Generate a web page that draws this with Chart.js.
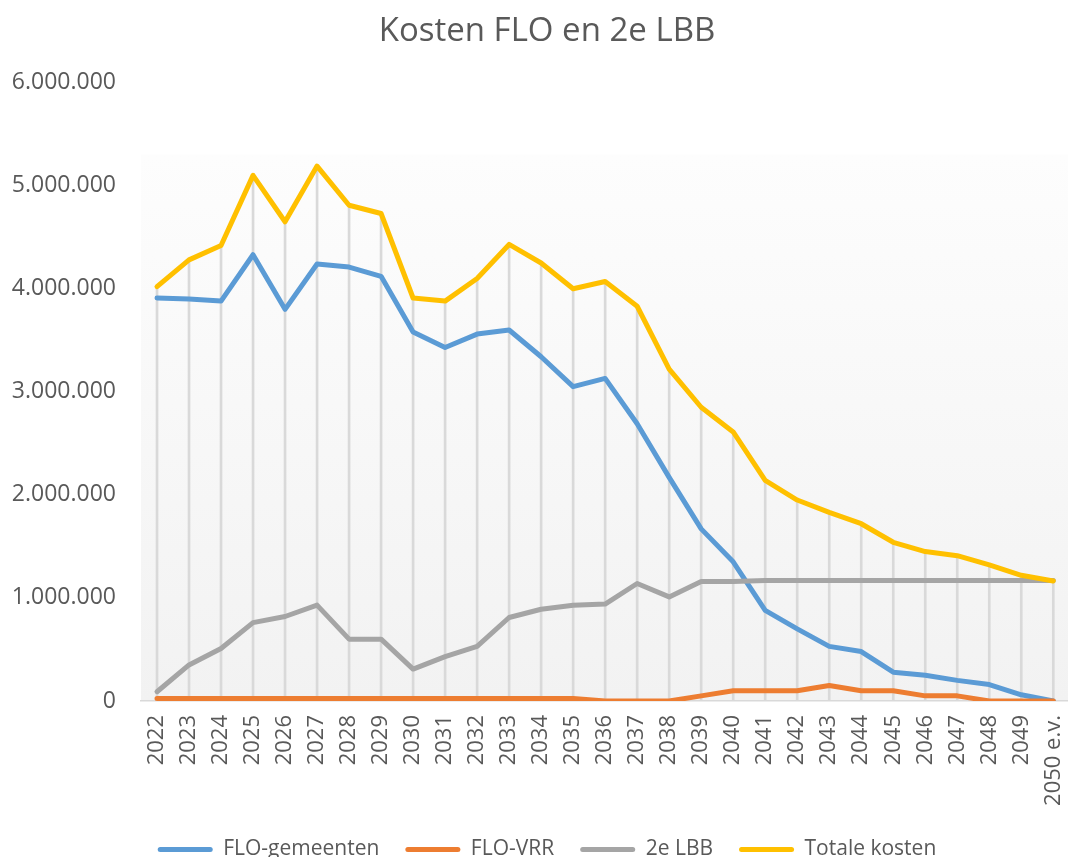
<!DOCTYPE html>
<html>
<head>
<meta charset="utf-8">
<script src="https://cdn.jsdelivr.net/npm/chart.js@4/dist/chart.umd.min.js"></script>
<style>
  html, body { margin: 0; padding: 0; overflow: hidden; background: #fff; }
  #wrap { width: 1094px; height: 870px; position: relative; }
</style>
</head>
<body>
<div id="wrap"><canvas id="myChart"></canvas></div>
<script>
// jaren
var jaren = ['2022', '2023', '2024', '2025', '2026', '2027', '2028', '2029', '2030', '2031',
    '2032', '2033', '2034', '2035', '2036', '2037', '2038', '2039', '2040', '2041',
    '2042', '2043', '2044', '2045', '2046', '2047', '2048', '2049', '2050 e.v.'];

var floGemeenten = [3910000, 3900000, 3880000, 4330000, 3800000, 4240000, 4210000, 4120000, 3580000, 3430000,
    3560000, 3600000, 3340000, 3050000, 3130000, 2690000, 2170000, 1670000, 1350000, 880000,
    700000, 530000, 480000, 280000, 250000, 200000, 160000, 60000, 0];

var floVRR = [25000, 25000, 25000, 25000, 25000, 25000, 25000, 25000, 25000, 25000,
    25000, 25000, 25000, 25000, 0, 0, 0, 50000, 100000, 100000,
    100000, 150000, 100000, 100000, 50000, 50000, 0, 0, 0];

var tweedeLBB = [90000, 350000, 510000, 760000, 820000, 930000, 600000, 600000, 310000, 430000,
    530000, 810000, 890000, 930000, 940000, 1140000, 1010000, 1160000, 1160000, 1170000,
    1170000, 1170000, 1170000, 1170000, 1170000, 1170000, 1170000, 1170000, 1170000];

var totaleKosten = [4020000, 4280000, 4420000, 5100000, 4650000, 5190000, 4810000, 4730000, 3910000, 3880000,
    4100000, 4430000, 4250000, 4000000, 4070000, 3830000, 3220000, 2850000, 2610000, 2140000,
    1950000, 1830000, 1720000, 1540000, 1450000, 1410000, 1320000, 1220000, 1165000];

var yTicks = { min: 0, max: 6000000, step: 1000000 };

var tekst = '#595959';
Chart.defaults.font.family = "'Open Sans', sans-serif";
Chart.defaults.color = tekst;

// achtergrond plot area (wit -> lichtgrijs)
const plotBackground = {
    id: 'plotBackground',
    beforeDraw(chart) {
        const { ctx, chartArea: a } = chart;
        const top = a.top + (a.bottom - a.top) * 0.1165;
        const g = ctx.createLinearGradient(0, top, 0, a.bottom);
        g.addColorStop(0, '#fdfdfd');
        g.addColorStop(1, '#f2f2f2');
        ctx.save();
        ctx.fillStyle = g;
        ctx.fillRect(a.left, top, a.right - a.left, a.bottom - top);
        ctx.restore();
    }
};

let lijn = (label, data, kleur, order) => ({
    type: 'line',
    label: label,
    data: data,
    borderColor: kleur,
    backgroundColor: kleur,
    borderWidth: 5,
    pointRadius: 0,
    tension: 0,
    fill: false,
    borderJoinStyle: 'round',
    borderCapStyle: 'round',
    order: order
});

var ctx = document.getElementById('myChart').getContext('2d');
var myChart = new Chart(ctx, {
    type: 'line',
    data: {
        labels: jaren,
        datasets: [
            lijn('FLO-gemeenten', floGemeenten, '#5B9BD5', 4),
            lijn('FLO-VRR', floVRR, '#ED7D31', 3),
            lijn('2e LBB', tweedeLBB, '#A5A5A5', 2),
            lijn('Totale kosten', totaleKosten, '#FFC000', 1),
            {
                // loodlijnen vanaf de hoogste lijn
                type: 'bar',
                label: 'drop',
                data: totaleKosten,
                backgroundColor: '#d9d9d9',
                barThickness: 2,
                order: 10
            }
        ]
    },
    options: {
        responsive: true,
        maintainAspectRatio: false,
        animation: false,
        layout: { padding: 0 },
        plugins: {
            title: {
                display: true,
                text: 'Kosten FLO en 2e LBB',
                color: tekst,
                font: { size: 33, weight: 'normal' },
                padding: { top: 12, bottom: 31 }
            },
            legend: {
                position: 'bottom',
                labels: {
                    color: tekst,
                    font: { size: 21 },
                    boxWidth: 55,
                    boxHeight: 5,
                    padding: 26,
                    useBorderRadius: true,
                    borderRadius: 2.5,
                    filter: item => item.datasetIndex < 4,
                    sort: (a, b) => a.datasetIndex - b.datasetIndex,
                    generateLabels: chart => Chart.defaults.plugins.legend.labels.generateLabels(chart)
                        .map(l => Object.assign(l, { lineWidth: 0 }))
                }
            },
            tooltip: { enabled: false }
        },
        scales: {
            x: {
                offset: true,
                grid: { display: false, drawTicks: false },
                border: { display: true, color: '#d9d9d9', width: 1.5 },
                ticks: {
                    autoSkip: false,
                    maxRotation: 90,
                    minRotation: 90,
                    padding: 14,
                    color: tekst,
                    font: { size: 22 }
                },
                afterFit: s => { s.height = 112; }
            },
            y: {
                min: yTicks.min,
                max: yTicks.max,
                grid: { display: false, drawTicks: false },
                border: { display: false },
                ticks: {
                    stepSize: yTicks.step,
                    padding: 25,
                    color: tekst,
                    font: { size: 23 },
                    callback: v => v.toString().replace(/\B(?=(\d{3})+(?!\d))/g, '.')
                },
                afterFit: s => { s.width = 141; }
            },
            rechts: {
                position: 'right',
                display: true,
                grid: { display: false, drawTicks: false },
                border: { display: false },
                ticks: { display: false },
                afterFit: s => { s.width = 18; }
            }
        }
    },
    plugins: [plotBackground]
});
</script>
</body>
</html>
